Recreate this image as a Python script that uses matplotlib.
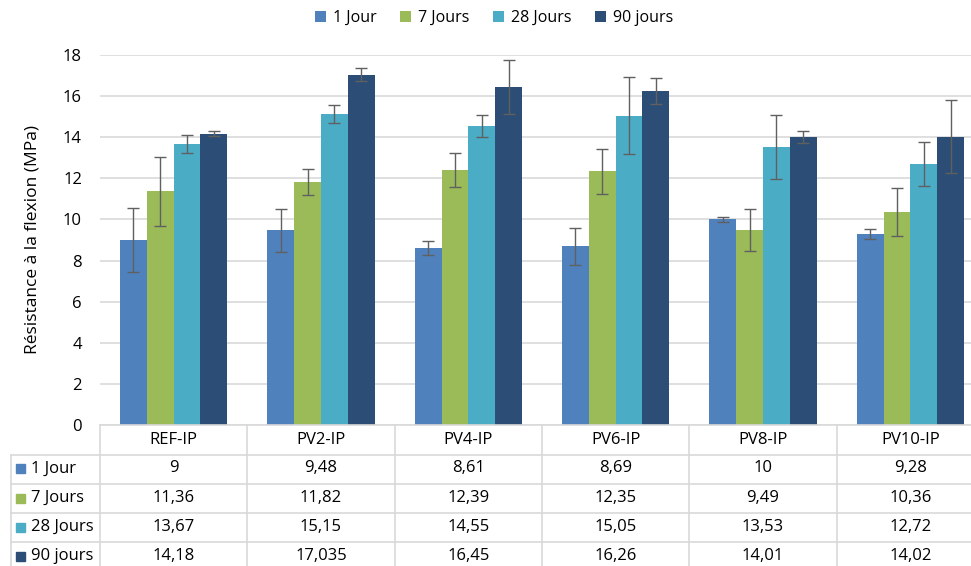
import matplotlib
matplotlib.use("Agg")
import matplotlib.pyplot as plt
import matplotlib.transforms as mtransforms
from matplotlib.patches import Patch, Rectangle
from matplotlib.lines import Line2D
import numpy as np

plt.rcParams['font.family'] = ['Open Sans', 'DejaVu Sans']

categories = ["REF-IP", "PV2-IP", "PV4-IP", "PV6-IP", "PV8-IP", "PV10-IP"]
series_names = ["1 Jour", "7 Jours", "28 Jours", "90 jours"]
v_1j = [9, 9.48, 8.61, 8.69, 10, 9.28]
v_7j = [11.36, 11.82, 12.39, 12.35, 9.49, 10.36]
v_28j = [13.67, 15.15, 14.55, 15.05, 13.53, 12.72]
v_90j = [14.18, 17.035, 16.45, 16.26, 14.01, 14.02]
e_1j = [1.55, 1.05, 0.36, 0.89, 0.11, 0.25]
e_7j = [1.67, 0.63, 0.82, 1.10, 1.02, 1.17]
e_28j = [0.45, 0.44, 0.53, 1.86, 1.55, 1.07]
e_90j = [0.13, 0.32, 1.31, 0.62, 0.27, 1.78]
yticks = [0, 2, 4, 6, 8, 10, 12, 14, 16, 18]

values = [v_1j, v_7j, v_28j, v_90j]
errors = [e_1j, e_7j, e_28j, e_90j]
colors = ["#4f81bd", "#9bbb59", "#4bacc6", "#2c4d75"]

W, H = 971, 566
fig = plt.figure(figsize=(W / 100, H / 100), dpi=100)

def fx(px):
    return px / W

def fy(py):
    return 1 - py / H

ax_left, ax_right, ax_top, ax_bot = 100, 984, 55, 425
ax = fig.add_axes([fx(ax_left), fy(ax_bot), (ax_right - ax_left) / W, (ax_bot - ax_top) / H])

x = np.arange(len(categories))
bw = 0.182
for i, (vals, errs, c) in enumerate(zip(values, errors, colors)):
    xs = x + (i - 1.5) * bw
    ax.bar(xs, vals, width=bw, color=c, edgecolor='none', zorder=3)
    ax.errorbar(xs, vals, yerr=errs, fmt='none', ecolor='#606060', elinewidth=1,
                capsize=4, capthick=1, zorder=4)

ax.set_xlim(-0.5, len(categories) - 0.5)
ax.set_ylim(0, 18)
ax.set_yticks(yticks)
ax.set_yticklabels([str(t) for t in yticks], fontsize=12)
ax.tick_params(axis='y', length=0, pad=13, colors='#000000')
ax.set_xticks([])
for s in ax.spines.values():
    s.set_visible(False)
ax.yaxis.grid(True, color='#d9d9d9', linewidth=1.2, zorder=0)
ax.set_axisbelow(True)
ax.set_ylabel("Résistance à la flexion (MPa)", fontsize=12.5, labelpad=16)

# Data table
grid_c = '#d9d9d9'
blend = mtransforms.blended_transform_factory(ax.transData, fig.transFigure)
row_lines = [425, 455, 484, 513, 542, 571]
row_centers = [440, 468.5, 498, 527, 556]
table_left = 10.5

fig.add_artist(Line2D([fx(ax_left), 1], [fy(425), fy(425)], color=grid_c, lw=1.2,
                      transform=fig.transFigure))
for ry in row_lines[1:]:
    fig.add_artist(Line2D([fx(table_left), 1], [fy(ry), fy(ry)], color=grid_c, lw=1.2,
                          transform=fig.transFigure))
fig.add_artist(Line2D([fx(table_left), fx(table_left)], [fy(455), 0], color=grid_c, lw=1.2,
                      transform=fig.transFigure))
for k in range(len(categories) + 1):
    fig.add_artist(Line2D([k - 0.5, k - 0.5], [fy(425), 0], color=grid_c, lw=1.2,
                          transform=blend))

for k, cat in enumerate(categories):
    fig.text(k, fy(row_centers[0]), cat, transform=blend, ha='center', va='center', fontsize=12)

def fmt(v):
    return f"{v:g}".replace('.', ',')

for r, (name, vals, c) in enumerate(zip(series_names, values, colors)):
    yc = fy(row_centers[r + 1])
    fig.add_artist(Rectangle((fx(16), yc - 4.5 / H), 9 / W, 9 / H, color=c,
                             transform=fig.transFigure))
    fig.text(fx(31), yc, name, ha='left', va='center', fontsize=12)
    for k, v in enumerate(vals):
        fig.text(k, yc, fmt(v), transform=blend, ha='center', va='center', fontsize=12)

handles = [Patch(facecolor=c, edgecolor='none', label=n) for c, n in zip(colors, series_names)]
fig.legend(handles=handles, loc='center', bbox_to_anchor=(fx(494), fy(18)), ncol=4,
           frameon=False, fontsize=11.5, handlelength=0.7, handleheight=0.7,
           handletextpad=0.4, columnspacing=1.5)

fig.savefig("out.png", dpi=100)
